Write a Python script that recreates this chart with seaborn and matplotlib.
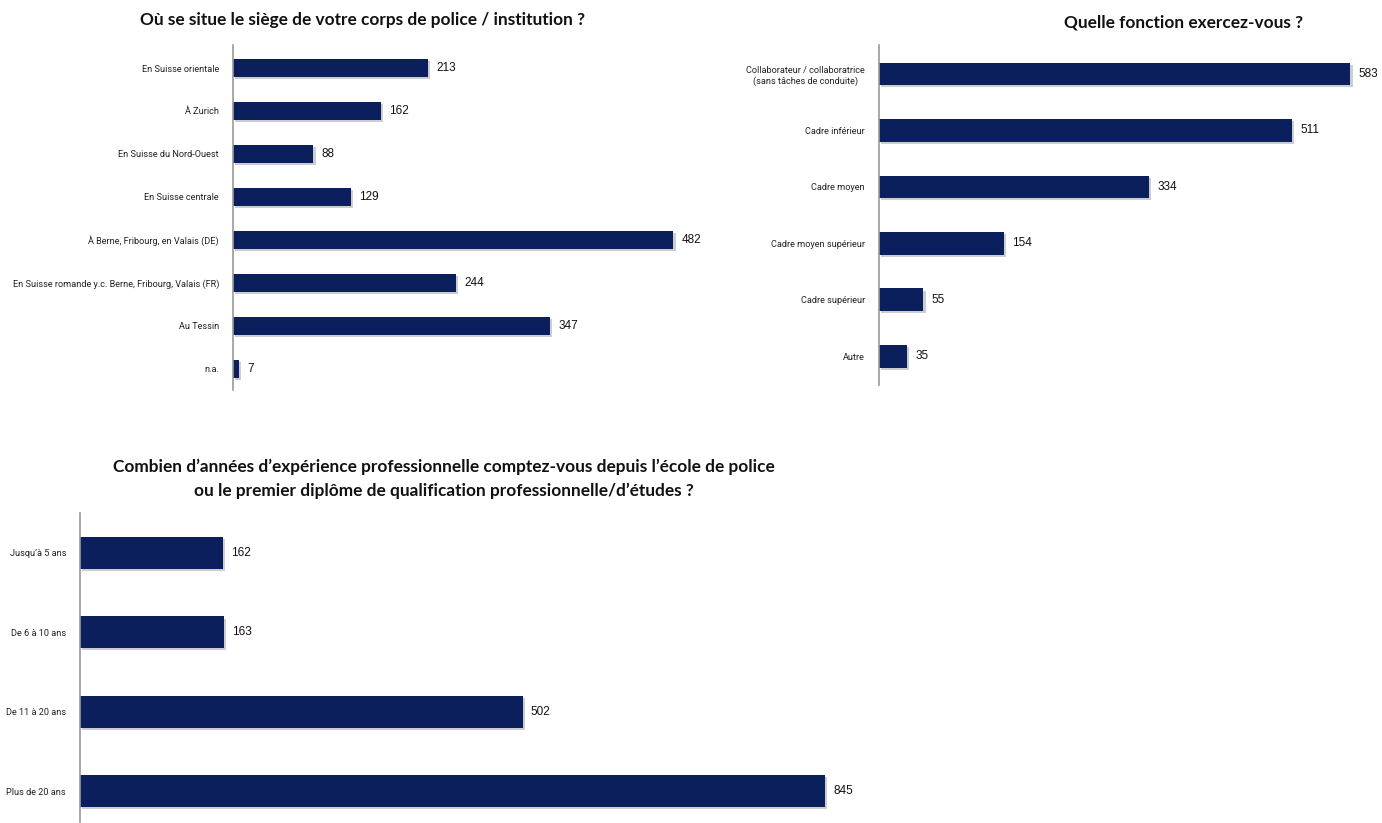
import matplotlib
matplotlib.use("Agg")
import matplotlib.pyplot as plt
import matplotlib.patheffects as pe
import seaborn as sns
import pandas as pd

# Survey answers: headquarters region
siege_labels = [
    "En Suisse orientale",
    "À Zurich",
    "En Suisse du Nord-Ouest",
    "En Suisse centrale",
    "À Berne, Fribourg, en Valais (DE)",
    "En Suisse romande y.c. Berne, Fribourg, Valais (FR)",
    "Au Tessin",
    "n.a.",
]
siege_counts = [213, 162, 88, 129, 482, 244, 347, 7]

# Survey answers: function
fonction_labels = [
    "Collaborateur / collaboratrice\n(sans tâches de conduite)",
    "Cadre inférieur",
    "Cadre moyen",
    "Cadre moyen supérieur",
    "Cadre supérieur",
    "Autre",
]
fonction_counts = [583, 511, 334, 154, 55, 35]

# Survey answers: years of experience
experience_labels = ["Jusqu’à 5 ans", "De 6 à 10 ans", "De 11 à 20 ans", "Plus de 20 ans"]
experience_counts = [162, 163, 502, 845]

titles = [
    "Où se situe le siège de votre corps de police / institution ?",
    "Quelle fonction exercez-vous ?",
    "Combien d’années d’expérience professionnelle comptez-vous depuis l’école de police\n"
    "ou le premier diplôme de qualification professionnelle/d’études ?",
]

sns.set_theme(style="white")
LABEL_FONT = ["Roboto", "DejaVu Sans"]
TITLE_FONT = ["Lato", "DejaVu Sans"]
VALUE_FONT = ["Liberation Sans", "DejaVu Sans"]
plt.rcParams["font.family"] = LABEL_FONT

BAR = "#0b1f5c"
AXIS = "#9a9a9a"

W, H = 1382, 823
fig = plt.figure(figsize=(W / 100, H / 100), dpi=100)


def px_axes(x0, y0, x1, y1):
    return fig.add_axes([x0 / W, 1 - y1 / H, (x1 - x0) / W, (y1 - y0) / H])


def draw(ax, labels, counts, xmax, ylim, label_size):
    df = pd.DataFrame({"cat": labels, "n": counts})
    sns.barplot(data=df, x="n", y="cat", orient="h", color=BAR, width=0.4,
                saturation=1, linewidth=0, ax=ax)
    for p in ax.patches:
        p.set_path_effects([pe.SimplePatchShadow(offset=(1.5, -1.5), alpha=0.2),
                            pe.Normal()])
    ax.set_xlim(0, xmax)
    ax.set_ylim(*ylim)
    ax.set_xlabel("")
    ax.set_ylabel("")
    ax.set_xticks([])
    for s in ["top", "right", "bottom"]:
        ax.spines[s].set_visible(False)
    ax.spines["left"].set_color(AXIS)
    ax.spines["left"].set_linewidth(1.2)
    ax.spines["left"].set_zorder(5)
    ax.tick_params(axis="y", length=0, pad=10, labelsize=label_size, colors="#222222")
    for t in ax.get_yticklabels():
        t.set_family(LABEL_FONT)
        t.set_multialignment("center")
    ax.bar_label(ax.containers[0], padding=6, fontsize=8.5,
                 family=VALUE_FONT, color="#111111")
    ax.set_facecolor("none")


ax1 = px_axes(233, 45, 700, 390)
draw(ax1, siege_labels, siege_counts, 511, (7.49, -0.535), 6.6)

ax2 = px_axes(879, 45, 1382, 385)
draw(ax2, fonction_labels, fonction_counts, 622, (5.51, -0.514), 6.6)

ax3 = px_axes(80, 513, 870, 822)
draw(ax3, experience_labels, experience_counts, 896, (3.39, -0.504), 6.6)

title_kw = dict(fontsize=12.4, fontweight="bold", family=TITLE_FONT, color="#111111",
                ha="center", va="center")
fig.text(363 / W, 1 - 20 / H, titles[0], **title_kw)
fig.text(1183 / W, 1 - 22 / H, titles[1], **title_kw)
fig.text(444 / W, 1 - 479 / H, titles[2], linespacing=1.55, **title_kw)

fig.savefig("out.png", dpi=100, facecolor="white")
